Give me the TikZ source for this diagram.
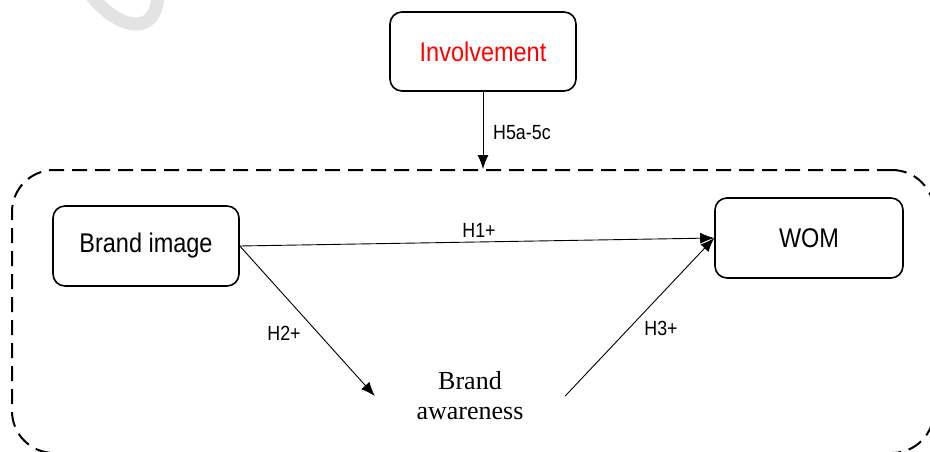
\documentclass[tikz,border=0pt]{standalone}
\usepackage{fontspec}
\setmainfont[FakeStretch=0.87]{Liberation Sans}
\newfontfamily\timesfont{Liberation Serif}
\usetikzlibrary{arrows.meta}
\begin{document}
\begin{tikzpicture}[x=1pt,y=-1pt,
  box/.style={draw,line width=1.6pt,rounded corners=12pt,inner sep=0pt,
    font=\fontsize{27}{30}\selectfont},
  lbl/.style={font=\fontsize{20.5}{23}\selectfont,inner sep=0pt},
  conn/.style={line width=0.9pt,-{Latex[length=14pt,width=11pt]}},
  frame/.style={draw,line width=2pt,dash pattern=on 15pt off 8pt,rounded corners=42pt,inner sep=0pt}
]
\useasboundingbox (0,0) rectangle (930,452);
\clip (0,0) rectangle (930,452);
% faint watermark stroke
\draw[gray!22,line width=13pt] (90,-6) .. controls (118,30) and (157,38) .. (158,-6);
% dashed frame
\node[frame,minimum width=922pt,minimum height=283pt] (fr) at (473,311.5) {};
% boxes
\node[box,minimum width=186pt,minimum height=79pt,text=red] (inv) at (483,51.5) {Involvement};
\node[box,minimum width=186pt,minimum height=80pt] (bi) at (146,246) {Brand image};
\node[box,minimum width=188pt,minimum height=80pt] (wom) at (809,238) {WOM};
\node[minimum width=190pt,inner sep=0pt,align=center,
  font=\timesfont\fontsize{26}{30}\selectfont] (ba) at (470,396) {Brand\\awareness};
% connectors
\draw[conn] (inv.south) -- (inv.south |- fr.north);
\draw[conn] (bi.east) -- (wom.west);
\draw[conn] (bi.east) -- (ba.west);
\draw[conn] (ba.east) -- (wom.west);
% labels
\node[lbl,anchor=west] (l5) at (493,133) {H5a-5c};
\node[lbl] (l1) at (479,230) {H1+};
\node[lbl] (l2) at (284,333) {H2+};
\node[lbl] (l3) at (661,328) {H3+};
\end{tikzpicture}
\end{document}
